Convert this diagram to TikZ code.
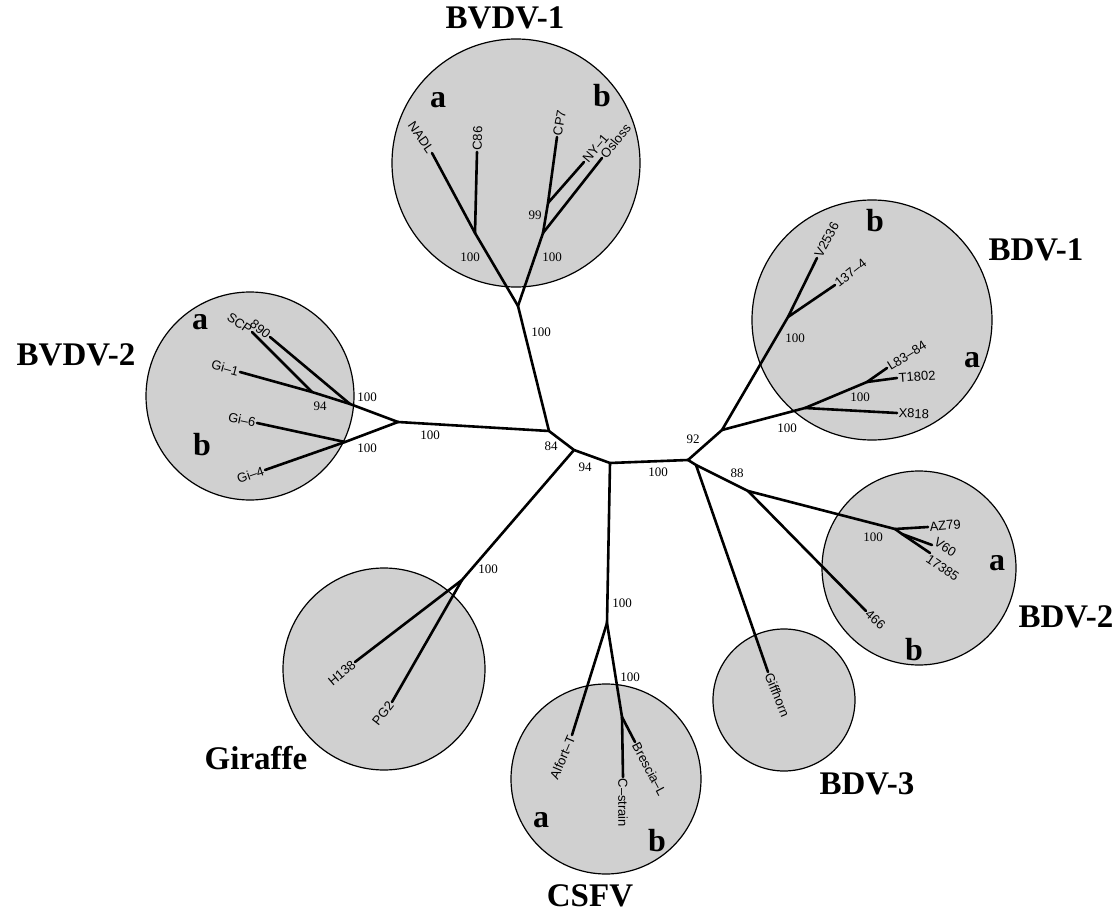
\documentclass[tikz,border=0pt]{standalone}
\usepackage{fontspec}
\setmainfont{Liberation Serif}
\newfontfamily\leaffont{Liberation Sans}
\definecolor{cfill}{RGB}{208,208,208}
\tikzset{
  branch/.style={line width=2.6pt, line cap=round, line join=round},
  cladecirc/.style={draw, line width=1.2pt, fill=cfill},
  grouptitle/.style={font=\bfseries\fontsize{33}{33}\selectfont, inner sep=0pt},
  sublabel/.style={font=\bfseries\fontsize{32}{32}\selectfont, inner sep=0pt},
  leaf/.style={font=\leaffont\fontsize{13}{13}\selectfont, inner sep=1.5pt},
  boot/.style={font=\fontsize{13}{13}\selectfont, inner sep=0pt}
}
\begin{document}
\begin{tikzpicture}[x=1pt,y=-1pt]
\useasboundingbox (0,0) rectangle (1120,912);
% clade circles
\draw[cladecirc] (516,163) circle (124pt);
\draw[cladecirc] (872,320) circle (120pt);
\draw[cladecirc] (250,396) circle (104pt);
\draw[cladecirc] (919,568) circle (97pt);
\draw[cladecirc] (384,669) circle (101pt);
\draw[cladecirc] (784,700) circle (71pt);
\draw[cladecirc] (606,779) circle (95pt);
% internal nodes
\coordinate (j84) at (549,431);
\coordinate (j94) at (574,450);
\coordinate (j610) at (610,463);
\coordinate (j92) at (688,460);
\coordinate (v1) at (518,306);
\coordinate (v1a) at (475,233);
\coordinate (v1b) at (543,233);
\coordinate (v1b2) at (548,203);
\coordinate (v2) at (398,422);
\coordinate (v2a) at (350,404);
\coordinate (v2a1) at (312,392);
\coordinate (v2b) at (345,442);
\coordinate (gir) at (462,580);
\coordinate (cs) at (607,623);
\coordinate (csb) at (622,717);
\coordinate (b1) at (722,430);
\coordinate (b1b) at (788,317);
\coordinate (b1a) at (805,408);
\coordinate (b1a1) at (867,382);
\coordinate (j3) at (696,465);
\coordinate (b2) at (748,491);
\coordinate (b2a) at (895,529);
\coordinate (b2a1) at (902,534);
% tips
\coordinate (NADL) at (432,153);
\coordinate (C86) at (477,152);
\coordinate (CP7) at (557,137);
\coordinate (NY1) at (584,162);
\coordinate (Osloss) at (602,158);
\coordinate (T890) at (270,337);
\coordinate (SCP) at (252,332);
\coordinate (Gi1) at (240,372);
\coordinate (Gi6) at (257,423);
\coordinate (Gi4) at (265,470);
\coordinate (H138) at (355,662);
\coordinate (PG2) at (392,702);
\coordinate (Alfort) at (572,735);
\coordinate (Cstrain) at (623,777);
\coordinate (Brescia) at (635,742);
\coordinate (Giff) at (768,672);
\coordinate (T466) at (866,611);
\coordinate (AZ79) at (928,527);
\coordinate (V60) at (932,545);
\coordinate (T17385) at (930,553);
\coordinate (X818) at (897,413);
\coordinate (T1802) at (897,378);
\coordinate (L8384) at (887,368);
\coordinate (T1374) at (835,285);
\coordinate (V2536) at (817,258);
% branches
\draw[branch] (v2) -- (j84) -- (j94) -- (j610) -- (j92);
\draw[branch] (j84) -- (v1);
\draw[branch] (v1) -- (v1a); \draw[branch] (v1a) -- (NADL); \draw[branch] (v1a) -- (C86);
\draw[branch] (v1) -- (v1b); \draw[branch] (v1b) -- (Osloss); \draw[branch] (v1b) -- (v1b2);
\draw[branch] (v1b2) -- (NY1); \draw[branch] (v1b2) -- (CP7);
\draw[branch] (v2) -- (v2a); \draw[branch] (v2a) -- (T890); \draw[branch] (v2a) -- (v2a1);
\draw[branch] (v2a1) -- (SCP); \draw[branch] (v2a1) -- (Gi1);
\draw[branch] (v2) -- (v2b); \draw[branch] (v2b) -- (Gi6); \draw[branch] (v2b) -- (Gi4);
\draw[branch] (j94) -- (gir); \draw[branch] (gir) -- (H138); \draw[branch] (gir) -- (PG2);
\draw[branch] (j610) -- (cs); \draw[branch] (cs) -- (Alfort); \draw[branch] (cs) -- (csb);
\draw[branch] (csb) -- (Cstrain); \draw[branch] (csb) -- (Brescia);
\draw[branch] (j92) -- (b1); \draw[branch] (b1) -- (b1b); \draw[branch] (b1b) -- (V2536);
\draw[branch] (b1b) -- (T1374); \draw[branch] (b1) -- (b1a); \draw[branch] (b1a) -- (X818);
\draw[branch] (b1a) -- (b1a1); \draw[branch] (b1a1) -- (L8384); \draw[branch] (b1a1) -- (T1802);
\draw[branch] (j92) -- (j3); \draw[branch] (j3) -- (Giff); \draw[branch] (j3) -- (b2);
\draw[branch] (b2) -- (T466); \draw[branch] (b2) -- (b2a); \draw[branch] (b2a) -- (AZ79);
\draw[branch] (b2a) -- (b2a1); \draw[branch] (b2a1) -- (V60); \draw[branch] (b2a1) -- (T17385);
% leaf labels
\node[leaf, rotate=-55, anchor=east] (lNADL) at (NADL) {NADL};
\node[leaf, rotate=88, anchor=west] (lC86) at (C86) {C86};
\node[leaf, rotate=80, anchor=west] (lCP7) at (CP7) {CP7};
\node[leaf, rotate=50, anchor=west] (lNY1) at (NY1) {NY–1};
\node[leaf, rotate=51, anchor=west] (lOsloss) at (Osloss) {Osloss};
\node[leaf, rotate=-40, anchor=east] (l890) at (T890) {890};
\node[leaf, rotate=-35, anchor=east] (lSCP) at (SCP) {SCP};
\node[leaf, rotate=-15, anchor=east] (lGi1) at (Gi1) {Gi–1};
\node[leaf, rotate=-12, anchor=east] (lGi6) at (Gi6) {Gi–6};
\node[leaf, rotate=19, anchor=east] (lGi4) at (Gi4) {Gi–4};
\node[leaf, rotate=40, anchor=east] (lH138) at (H138) {H138};
\node[leaf, rotate=52, anchor=east] (lPG2) at (PG2) {PG2};
\node[leaf, rotate=67, anchor=east] (lAlfort) at (Alfort) {Alfort–T};
\node[leaf, rotate=-90, anchor=west] (lCstrain) at (Cstrain) {C–strain};
\node[leaf, rotate=-62, anchor=west] (lBrescia) at (Brescia) {Brescia–L};
\node[leaf, rotate=-68, anchor=west] (lGiff) at (Giff) {Giffhorn};
\node[leaf, rotate=-42, anchor=west] (l466) at (T466) {466};
\node[leaf, rotate=5, anchor=west] (lAZ79) at (AZ79) {AZ79};
\node[leaf, rotate=-33, anchor=south west, inner sep=0.5pt] (lV60) at (V60) {V60};
\node[leaf, rotate=-34, anchor=north west, inner sep=0.5pt] (l17385) at (T17385) {17385};
\node[leaf, rotate=-2, anchor=west] (lX818) at (X818) {X818};
\node[leaf, rotate=4, anchor=west] (lT1802) at (T1802) {T1802};
\node[leaf, rotate=32, anchor=west] (lL8384) at (L8384) {L83–84};
\node[leaf, rotate=38, anchor=west] (l1374) at (T1374) {137–4};
\node[leaf, rotate=62, anchor=west] (lV2536) at (V2536) {V2536};
% bootstrap values
\node[boot] (bs1) at (470,257) {100};
\node[boot] (bs2) at (552,257) {100};
\node[boot] (bs3) at (535,215) {99};
\node[boot] (bs4) at (541,332) {100};
\node[boot] (bs5) at (551,446) {84};
\node[boot] (bs6) at (585,467) {94};
\node[boot] (bs7) at (658,472) {100};
\node[boot] (bs8) at (693,439) {92};
\node[boot] (bs9) at (737,473) {88};
\node[boot] (bs10) at (787,428) {100};
\node[boot] (bs11) at (795,338) {100};
\node[boot] (bs12) at (860,397) {100};
\node[boot] (bs13) at (873,537) {100};
\node[boot] (bs14) at (622,603) {100};
\node[boot] (bs15) at (630,677) {100};
\node[boot] (bs16) at (488,569) {100};
\node[boot] (bs17) at (430,435) {100};
\node[boot] (bs18) at (367,397) {100};
\node[boot] (bs19) at (320,406) {94};
\node[boot] (bs20) at (367,448) {100};
% group titles
\node[grouptitle] (tBVDV1) at (505,18) {BVDV-1};
\node[grouptitle] (tBDV1) at (1036,250) {BDV-1};
\node[grouptitle] (tBVDV2) at (76,355) {BVDV-2};
\node[grouptitle] (tBDV2) at (1066,617) {BDV-2};
\node[grouptitle] (tGir) at (256,758) {Giraffe};
\node[grouptitle] (tBDV3) at (867,784) {BDV-3};
\node[grouptitle] (tCSFV) at (590,896) {CSFV};
% subtype letters
\node[sublabel] (sa1) at (438,100) {a};
\node[sublabel] (sb1) at (602,96) {b};
\node[sublabel] (sb2) at (875,221) {b};
\node[sublabel] (sa2) at (972,360) {a};
\node[sublabel] (sa3) at (200,322) {a};
\node[sublabel] (sb3) at (202,445) {b};
\node[sublabel] (sa4) at (997,563) {a};
\node[sublabel] (sb4) at (914,650) {b};
\node[sublabel] (sa5) at (541,820) {a};
\node[sublabel] (sb5) at (657,841) {b};
\end{tikzpicture}
\end{document}
